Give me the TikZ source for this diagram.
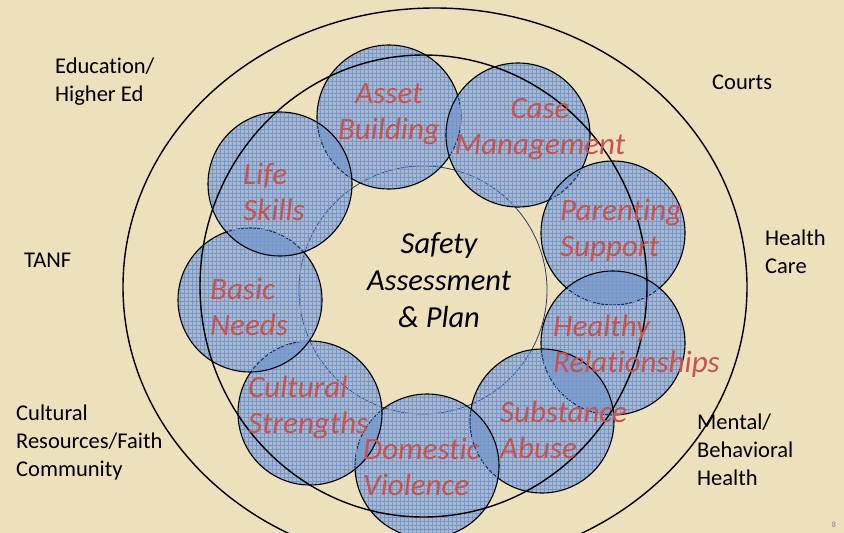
\documentclass[tikz,border=0pt]{standalone}
\usepackage{fontspec}
\setmainfont{Carlito}[Ligatures=NoCommon]
\usetikzlibrary{patterns}
\definecolor{parchment}{RGB}{237,224,188}
\definecolor{bubbleblue}{RGB}{80,125,195}
\definecolor{gridblue}{RGB}{110,150,218}
\definecolor{labelred}{RGB}{200,82,80}
\definecolor{coreblue}{RGB}{40,60,110}
\pgfdeclarepatternformonly{bubblegrid}{\pgfqpoint{-1pt}{-1pt}}{\pgfqpoint{4pt}{4pt}}{\pgfqpoint{4pt}{4pt}}{
  \pgfsetlinewidth{0.35pt}
  \pgfpathmoveto{\pgfqpoint{0pt}{0pt}}\pgfpathlineto{\pgfqpoint{4.1pt}{0pt}}
  \pgfpathmoveto{\pgfqpoint{0pt}{0pt}}\pgfpathlineto{\pgfqpoint{0pt}{4.1pt}}
  \pgfusepath{stroke}}

\begin{document}
\begin{tikzpicture}
  [x=1pt, y=-1pt,
   ring/.style = {draw=black, line width=1.4pt},
   core/.style = {draw=coreblue, line width=0.8pt},
   bubble/.style = {circle, minimum size=144pt, inner sep=0pt, draw=black, line width=1.1pt,
     preaction={fill=bubbleblue, fill opacity=0.4},
     preaction={pattern=bubblegrid, pattern color=gridblue, fill opacity=0.3}},
   tag/.style = {font=\fontsize{31}{36}\selectfont\itshape, text=labelred,
     inner sep=0pt, align=left, anchor=west},
   partner/.style = {font=\fontsize{22.5}{28}\selectfont, inner sep=0pt,
     align=left, anchor=west}
  ]
  \useasboundingbox (0,0) rectangle (844,533);
  \clip (0,0) rectangle (844,533);
  \fill[parchment] (0,0) rectangle (844,533);

  \draw[ring] (435,287) ellipse [x radius=312, y radius=279];
  \draw[core] (423,290) circle [radius=124];

  \node[bubble] (asset) at (389,117) {};
  \node[bubble] (casemgmt) at (518,135) {};
  \node[bubble] (parenting) at (613,233) {};
  \node[bubble] (healthy) at (613,343) {};
  \node[bubble] (substance) at (542,421) {};
  \node[bubble] (domestic) at (427,466) {};
  \node[bubble] (cultural) at (310,413) {};
  \node[bubble] (basic) at (250,300) {};
  \node[bubble] (life) at (280,184) {};

  \draw[ring] (423.5,286) ellipse [x radius=223.5, y radius=231];

  \node[tag, align=center, anchor=center] (assettxt) at (389,114) {Asset\\Building};
  \node[tag, align=center, anchor=center] (casetxt) at (540,129) {Case\\Management};
  \node[tag] (parentingtxt) at (560,230) {Parenting\\Support};
  \node[tag] (healthytxt) at (553,346) {Healthy\\Relationships};
  \node[tag] (substancetxt) at (500,430) {Substance\\Abuse};
  \node[tag] (domestictxt) at (363,467) {Domestic\\Violence};
  \node[tag] (culturaltxt) at (248,407) {Cultural\\Strengths};
  \node[tag] (basictxt) at (210,307) {Basic\\Needs};
  \node[tag] (lifetxt) at (243,192) {Life\\Skills};

  \node[font=\fontsize{30.5}{37}\selectfont\itshape, align=center, inner sep=0pt]
    (safety) at (439,280) {Safety\\Assessment\\\& Plan};

  \node[partner] (education) at (55,82) {Education/\\Higher Ed};
  \node[partner, anchor=base west] (courts) at (712,89) {Courts};
  \node[partner] (health) at (765,252) {Health\\Care};
  \node[partner, anchor=base west] (tanf) at (24,267) {TANF};
  \node[partner] (faith) at (16,442) {Cultural\\Resources/Faith\\Community};
  \node[partner] (mental) at (697,450) {Mental/\\Behavioral\\Health};
  \node[font=\fontsize{8}{8}\selectfont, text=gray] (slidenum) at (834,525) {8};
\end{tikzpicture}
\end{document}
